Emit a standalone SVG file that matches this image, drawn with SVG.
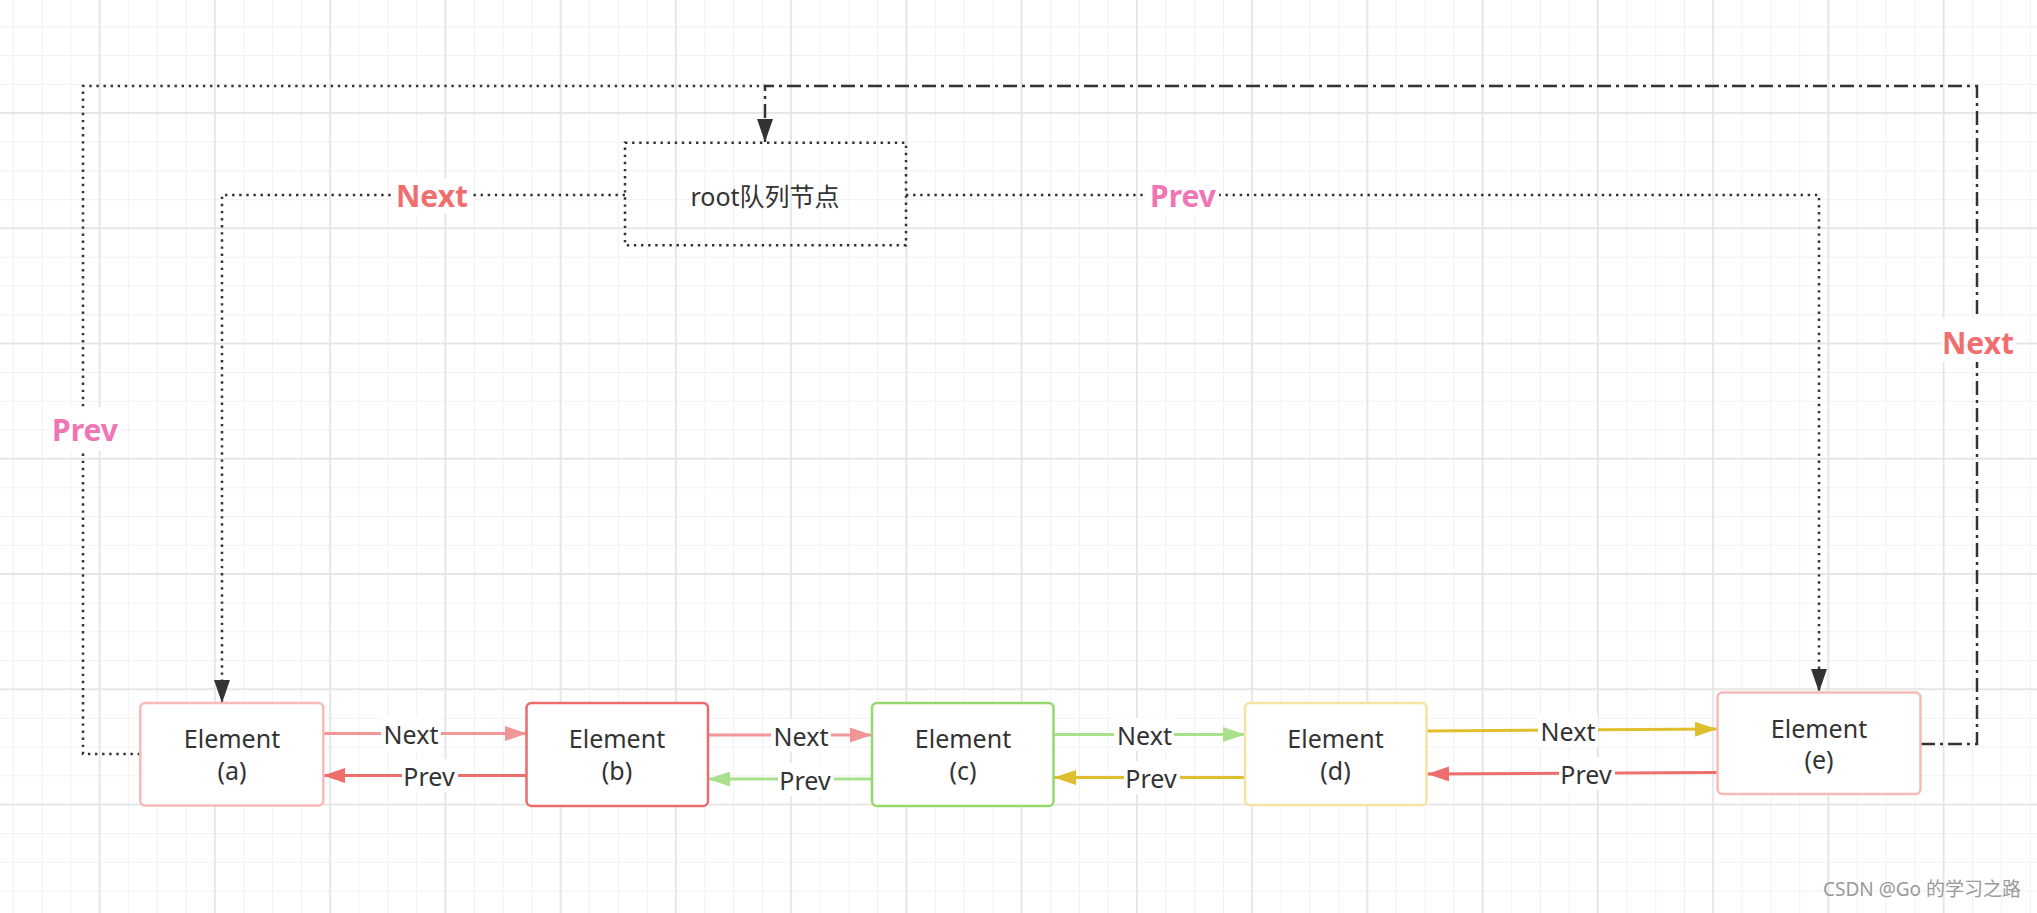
<svg xmlns="http://www.w3.org/2000/svg" width="2037" height="913" viewBox="0 0 2037 913">
<style>
text{font-family:"Noto Sans","Noto Sans CJK SC",sans-serif;fill:#333}
.el rect{fill:#fff;stroke-width:2.5}
.et{font-size:25px;text-anchor:middle}
.lbl{font-size:25px;text-anchor:middle}
.big{font-size:30px;font-weight:bold;text-anchor:middle}
.bg{fill:#fff}
.dot{fill:none;stroke:#333;stroke-width:2.5;stroke-dasharray:2.4 4.7}
.dd{fill:none;stroke:#333;stroke-width:2.5;stroke-dasharray:14 5 3 5}
.ar{fill:none;stroke-width:3}
</style>
<defs>
<pattern id="minor" patternUnits="userSpaceOnUse" x="99.3" y="112.7" width="28.8125" height="28.8125">
<rect x="0" y="0" width="1" height="28.8125" fill="#f1f1f1"/>
<rect x="0" y="0" width="28.8125" height="1" fill="#f1f1f1"/>
</pattern>
<pattern id="major" patternUnits="userSpaceOnUse" x="98.7" y="112.1" width="115.25" height="115.25">
<rect x="0" y="0" width="1.6" height="115.25" fill="#e3e3e3"/>
<rect x="0" y="0" width="115.25" height="1.6" fill="#e3e3e3"/>
</pattern>
<marker id="m-dark" markerUnits="userSpaceOnUse" markerWidth="24" markerHeight="16" refX="23" refY="8" orient="auto"><path d="M0,0 L23,8 L0,16 z" fill="#333"/></marker>
<marker id="m-salmon" markerUnits="userSpaceOnUse" markerWidth="23" markerHeight="15" refX="22" refY="7.5" orient="auto"><path d="M0,0 L22,7.5 L0,15 z" fill="#f09696"/></marker>
<marker id="m-red" markerUnits="userSpaceOnUse" markerWidth="23" markerHeight="15" refX="22" refY="7.5" orient="auto"><path d="M0,0 L22,7.5 L0,15 z" fill="#ee6d6d"/></marker>
<marker id="m-green" markerUnits="userSpaceOnUse" markerWidth="23" markerHeight="15" refX="22" refY="7.5" orient="auto"><path d="M0,0 L22,7.5 L0,15 z" fill="#a9e08b"/></marker>
<marker id="m-yellow" markerUnits="userSpaceOnUse" markerWidth="23" markerHeight="15" refX="22" refY="7.5" orient="auto"><path d="M0,0 L22,7.5 L0,15 z" fill="#e0bf2e"/></marker>
</defs>
<rect x="0" y="0" width="2037" height="913" fill="#fff"/>
<rect x="0" y="0" width="2037" height="913" fill="url(#minor)"/>
<rect x="0" y="0" width="2037" height="913" fill="url(#major)"/>

<g id="connectors">
<path class="dot" d="M625,195 H222 V703" marker-end="url(#m-dark)"/>
<path class="dot" d="M906,195 H1819 V692" marker-end="url(#m-dark)"/>
<path class="dot" d="M140,754 H83 V86 H765"/>
<path class="dd" d="M1921,744 H1977 V86 H765 V142" marker-end="url(#m-dark)"/>
<path class="ar" stroke="#f09696" d="M323,733.5 H527" marker-end="url(#m-salmon)"/>
<path class="ar" stroke="#ee6d6d" d="M527,775.5 H323" marker-end="url(#m-red)"/>
<path class="ar" stroke="#f09696" d="M708,735 H872" marker-end="url(#m-salmon)"/>
<path class="ar" stroke="#a9e08b" d="M872,779 H708" marker-end="url(#m-green)"/>
<path class="ar" stroke="#a9e08b" d="M1054,734.5 H1245" marker-end="url(#m-green)"/>
<path class="ar" stroke="#e0bf2e" d="M1245,777.5 H1054" marker-end="url(#m-yellow)"/>
<path class="ar" stroke="#e0bf2e" d="M1427,731 L1717,729" marker-end="url(#m-yellow)"/>
<path class="ar" stroke="#ee6d6d" d="M1717,772.5 L1427,774" marker-end="url(#m-red)"/>

<rect class="bg" x="392" y="178" width="80" height="36"/>
<text class="big" x="432" y="207" fill="#f06e6e" style="fill:#f06e6e">Next</text>
<rect class="bg" x="1147" y="178" width="72" height="36"/>
<text class="big" x="1183" y="207" style="fill:#f075b5">Prev</text>
<rect class="bg" x="50" y="407" width="70" height="44"/>
<text class="big" x="85" y="441" style="fill:#f075b5">Prev</text>
<rect class="bg" x="1941" y="318" width="75" height="44"/>
<text class="big" x="1978" y="354" style="fill:#f06e6e">Next</text>

<rect class="bg" x="381" y="717" width="60" height="33"/>
<text class="lbl" x="411" y="744">Next</text>
<rect class="bg" x="402" y="759" width="56" height="33"/>
<text class="lbl" x="429" y="786">Prev</text>
<rect class="bg" x="771" y="719" width="60" height="33"/>
<text class="lbl" x="801" y="745.5">Next</text>
<rect class="bg" x="778" y="763" width="56" height="33"/>
<text class="lbl" x="805" y="789.5">Prev</text>
<rect class="bg" x="1114" y="718" width="60" height="33"/>
<text class="lbl" x="1144.5" y="745">Next</text>
<rect class="bg" x="1124" y="761" width="56" height="33"/>
<text class="lbl" x="1151" y="788">Prev</text>
<rect class="bg" x="1538" y="714" width="60" height="33"/>
<text class="lbl" x="1568" y="740.5">Next</text>
<rect class="bg" x="1559" y="757" width="56" height="33"/>
<text class="lbl" x="1586" y="783.5">Prev</text>
</g>

<g id="root">
<rect x="625" y="142.7" width="281" height="102.5" fill="#fff" class="dot"/>
<text class="et" x="765" y="206">root队列节点</text>
</g>
<g id="elem-a" class="el">
<rect x="140.3" y="703" width="183" height="102.5" rx="5" stroke="#f8b9b9"/>
<text class="et" x="232" y="748">Element</text>
<text class="et" x="232" y="780">(a)</text>
</g>
<g id="elem-b" class="el">
<rect x="526.5" y="703" width="181.5" height="103" rx="5" stroke="#ea6c6c"/>
<text class="et" x="617" y="748">Element</text>
<text class="et" x="617" y="780">(b)</text>
</g>
<g id="elem-c" class="el">
<rect x="872" y="703" width="181.5" height="103" rx="5" stroke="#95d86e"/>
<text class="et" x="963" y="748">Element</text>
<text class="et" x="963" y="780">(c)</text>
</g>
<g id="elem-d" class="el">
<rect x="1245" y="703" width="181.5" height="102" rx="5" stroke="#f6e3a1"/>
<text class="et" x="1335.5" y="748">Element</text>
<text class="et" x="1335.5" y="780">(d)</text>
</g>
<g id="elem-e" class="el">
<rect x="1717.5" y="692.5" width="203" height="101.5" rx="5" stroke="#f8b9b9"/>
<text class="et" x="1819" y="738">Element</text>
<text class="et" x="1819" y="769">(e)</text>
</g>
<text x="2021" y="896" text-anchor="end" style="font-size:19px;fill:#9a9a9a">CSDN @Go 的学习之路</text>
</svg>
